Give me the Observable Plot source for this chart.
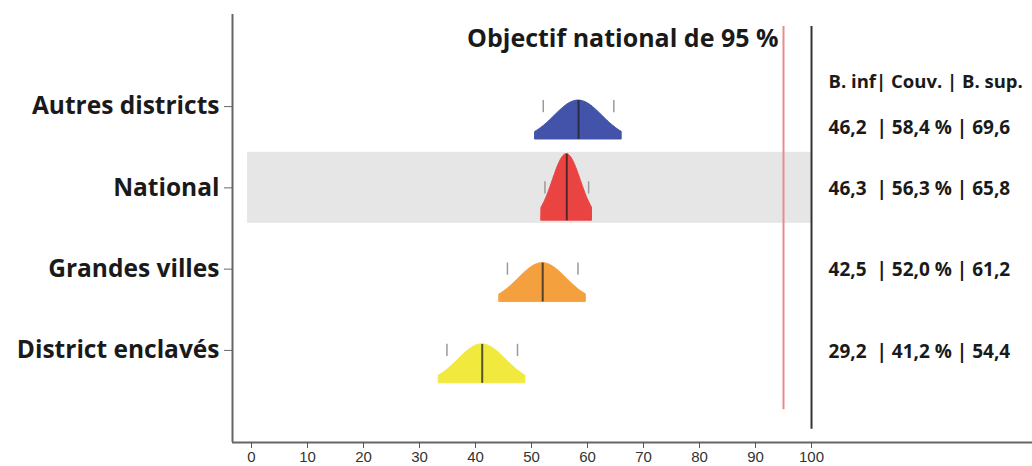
<!DOCTYPE html>
<html>
<head>
<meta charset="utf-8">
<script src="https://cdn.jsdelivr.net/npm/d3@7"></script>
<script src="https://cdn.jsdelivr.net/npm/@observablehq/plot@0.6"></script>
<style>
  html, body { margin: 0; padding: 0; background: #fff; }
  svg text { white-space: pre; }
</style>
</head>
<body>
<div id="chart"></div>
<script>
// ---- data ----
const categories = ["District enclavés", "Grandes villes", "National", "Autres districts"];
const coverage   = [41.2, 52.0, 56.3, 58.4];
const lower      = [29.2, 42.5, 46.3, 46.2];
const upper      = [54.4, 61.2, 65.8, 69.6];
const halfWidth  = [7.7, 7.7, 4.5, 7.7];      // visible spread of each density shape
const tickLo     = [34.9, 45.7, 52.4, 52.1];  // small grey markers
const tickHi     = [47.5, 58.3, 60.2, 64.7];
const colors     = ["#f1e93d", "#f5a03f", "#e94441", "#4253a9"];
const xTicks     = [0, 10, 20, 30, 40, 50, 60, 70, 80, 90, 100];
const targetValue = 95;
const refMax = 100;
const titleText = "Objectif national de 95 %";
const headerText = "B. inf| Couv. | B. sup.";

// ---- layout ----
const W = 1032, H = 466;
const xDomain = [-3.39, 139.46];
const yDomain = [-0.133, 5.133];
const zTrunc = 1.8;      // shapes are cut at this many sd
const areaK = 2.05;      // peak height (y units) * sd
const baseOff = 0.405;   // shape baseline below category line
const FONT = "'Open Sans', sans-serif";

const fmt = v => v.toFixed(1).replace(".", ",");

const rows = categories.map((c, i) => ({
  cat: c, pos: i + 1, cov: coverage[i], lo: lower[i], hi: upper[i],
  hw: halfWidth[i], sd: halfWidth[i] / zTrunc, color: colors[i],
  base: i + 1 - baseOff
}));

const curve = [];
for (const r of rows) {
  const n = 60;
  for (let k = 0; k <= n; k++) {
    const dx = -r.hw + (2 * r.hw * k) / n;
    const z = dx / r.sd;
    curve.push({cat: r.cat, color: r.color, x: r.cov + dx, y1: r.base, y2: r.base + (areaK / r.sd) * Math.exp(-z * z / 2)});
  }
}

const markers = rows.flatMap((r, i) => [
  {pos: r.pos, x: tickLo[i]}, {pos: r.pos, x: tickHi[i]}
]);

const national = rows.find(r => r.cat === "National");
const topRow = rows.filter(r => r.pos === 4);
const otherRows = rows.filter(r => r.pos !== 4);
const rowText = d => `${fmt(d.lo)}  | ${fmt(d.cov)} % | ${fmt(d.hi)}`;

const chart = Plot.plot({
  width: W, height: H,
  marginLeft: 232, marginRight: 0, marginTop: 14, marginBottom: 24,
  x: {domain: xDomain, axis: null},
  y: {domain: yDomain, axis: null},
  style: {fontFamily: FONT, color: "#1a1a1a", background: "#fff"},
  marks: [
    Plot.rect([national], {x1: -0.7, x2: refMax, y1: d => d.pos - 0.437, y2: d => d.pos + 0.437, fill: "#e6e6e6"}),
    Plot.areaY(curve, {x: "x", y1: "y1", y2: "y2", z: "cat", fill: "color", stroke: "color", strokeWidth: 1, curve: "linear"}),
    Plot.ruleX(rows, {x: "cov", y1: "base", y2: d => d.base + areaK / d.sd, stroke: "#222", strokeOpacity: 0.75, strokeWidth: 2}),
    Plot.ruleX(markers, {x: "x", y1: d => d.pos - 0.075, y2: d => d.pos + 0.075, stroke: "#9a9a9a", strokeWidth: 1.5}),
    Plot.ruleX([targetValue], {y1: 0.27, y2: 4.985, stroke: "#ec8a8a", strokeWidth: 2}),
    Plot.ruleX([refMax], {y1: 0.03, y2: 4.985, stroke: "#333", strokeWidth: 2}),
    Plot.ruleX([xDomain[0]], {stroke: "#666", strokeWidth: 2}),
    Plot.ruleY([yDomain[0]], {stroke: "#666", strokeWidth: 2}),
    Plot.axisX({ticks: xTicks, tickSize: 6, tickPadding: 3, fontSize: 15, fontFamily: "'Liberation Sans', Arial, sans-serif", fill: "#333", stroke: "#555", label: null}),
    Plot.axisY({ticks: [1, 2, 3, 4], tickFormat: d => categories[d - 1], tickSize: 8, tickPadding: 5, fontSize: 24.5, fontWeight: "bold", fontFamily: FONT, fill: "#1a1a1a", stroke: "#666", label: null}),
    Plot.text([titleText], {x: targetValue, frameAnchor: "top", lineAnchor: "middle", dy: 24, dx: -5, textAnchor: "end", text: d => d, fontSize: 25, fontWeight: "bold", fontFamily: FONT, fill: "#1a1a1a"}),
    Plot.text([headerText], {x: refMax, y: 4, dx: 17, dy: -25, textAnchor: "start", text: d => d, fontSize: 18.5, fontWeight: "bold", fontFamily: FONT, fill: "#1a1a1a"}),
    Plot.text(topRow, {x: refMax, y: "pos", dx: 17, dy: 21, textAnchor: "start", text: rowText, fontSize: 19, fontWeight: "bold", fontFamily: FONT, fill: "#1a1a1a"}),
    Plot.text(otherRows, {x: refMax, y: "pos", dx: 17, dy: 1, textAnchor: "start", text: rowText, fontSize: 19, fontWeight: "bold", fontFamily: FONT, fill: "#1a1a1a"})
  ]
});
document.getElementById("chart").appendChild(chart);
</script>
</body>
</html>
